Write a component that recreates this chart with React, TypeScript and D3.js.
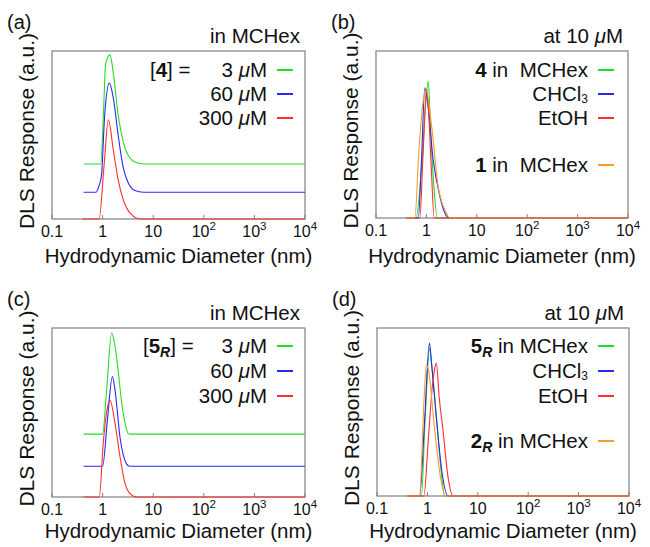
import React from "react";
import * as d3 from "d3";

// x axis: hydrodynamic diameter (nm), log scale
const tickValues = [0.1, 1, 10, 100, 1000, 10000];
const tickBases = ["0.1", "1", "10", "10", "10", "10"];
const tickExps = ["", "", "", "2", "3", "4"];

const concLabels = ["3", "60", "300"];

// series are [diameter (nm), response (a.u.)]
// (a) [4] in MCHex
const a3uM = [[0.43, 0], [0.92, 0], [1.04, 30], [1.15, 60], [1.4, 65], [1.63, 54], [2.01, 30], [2.53, 14], [3.18, 5.4], [4.72, 0.8], [7.4, 0], [10000, 0]];
const a60uM = [[0.42, 0], [0.73, 0], [0.86, 4.3], [0.95, 10], [1.1, 46], [1.36, 65], [1.63, 56], [2.04, 33.5], [2.57, 14.5], [3.22, 5.5], [4.37, 1], [6.4, 0], [10000, 0]];
const a300uM = [[0.4, 0], [0.85, 0], [1.07, 32], [1.3, 59], [1.63, 41], [2.04, 23], [2.57, 11.3], [3.48, 3.6], [5.5, 0], [10000, 0]];
const aOffsets = [32.7, 15.9, 0];

// (b) at 10 uM
const bMCHex = [[0.4, 0], [0.62, 0], [0.8, 30], [0.95, 65], [1.09, 82], [1.2, 55], [1.4, 20], [1.65, 0], [10000, 0]];
const bCHCl3 = [[0.4, 0], [0.69, 0], [0.8, 35], [0.93, 78], [1.05, 70], [1.36, 35], [1.85, 13], [2.32, 3], [2.85, 0], [10000, 0]];
const bEtOH = [[0.4, 0], [0.74, 0], [0.85, 35], [1.01, 77], [1.1, 65], [1.25, 30], [1.43, 0], [10000, 0]];
const b1MCHex = [[0.375, 0], [0.59, 0], [0.71, 40], [0.86, 70], [1.0, 76], [1.27, 55], [1.71, 19], [2.51, 3], [2.9, 0], [10000, 0]];

// (c) [5R] in MCHex
const c3uM = [[0.42, 0], [1.0, 0], [1.2, 26], [1.51, 60], [1.76, 52], [2.56, 12], [3.22, 0.4], [3.6, 0], [10000, 0]];
const c60uM = [[0.42, 0], [1.0, 0], [1.25, 28], [1.56, 53], [1.76, 45], [2.21, 17], [2.97, 1.4], [3.4, 0], [10000, 0]];
const c300uM = [[0.42, 0], [0.86, 0], [1.03, 32], [1.32, 56], [1.4, 57.4], [1.76, 43.6], [2.21, 23.8], [2.77, 8], [3.48, 2], [4.72, 0], [10000, 0]];
const cOffsets = [37.2, 18.2, 0];

// (d) at 10 uM
const dMCHex = [[0.4, 0], [0.76, 0], [0.9, 45], [1.11, 88], [1.2, 80], [1.51, 47], [1.9, 13], [2.2, 0], [10000, 0]];
const dCHCl3 = [[0.4, 0], [0.7, 0], [0.88, 45], [1.1, 91], [1.2, 80], [1.51, 46], [1.95, 14], [2.57, 0], [10000, 0]];
const dEtOH = [[0.4, 0], [0.85, 0], [1.05, 35], [1.25, 65], [1.45, 78], [1.51, 79], [1.7, 60], [2.04, 39], [2.56, 11.5], [3.22, 0], [10000, 0]];
const d2MCHex = [[0.38, 0], [0.7, 0], [0.85, 55], [0.955, 78], [1.05, 75], [1.4, 39], [1.8, 12], [2.3, 0], [10000, 0]];

const GREEN = "#22dd22";
const BLUE = "#2a2aee";
const RED = "#ff2e2e";
const ORANGE = "#ff992a";

const FONT = "'Liberation Sans', Arial, Helvetica, sans-serif";

type Box = { left: number; right: number; top: number; bottom: number };
type Row = { node: React.ReactNode; color: string; y: number };

const mu = <tspan fontStyle="italic">μ</tspan>;
const chcl3 = <>CHCl<tspan fontSize={12} dy={2}>3</tspan></>;

function Panel(props: {
  box: Box;
  series: number[][][];
  offsets: number[];
  colors: string[];
  letter: string;
  header: React.ReactNode;
  rows: Row[];
  textEnd: number;
  lead?: React.ReactNode;
  leadX?: number;
  titleDy: number;
}) {
  const { box, series, offsets, colors, letter, header, rows, textEnd, lead, leadX, titleDy } = props;
  const x = d3.scaleLog().domain([0.1, 10000]).range([box.left, box.right]);
  const y = d3.scaleLinear().domain([0, 100]).range([box.bottom, box.top]);
  const cx = (box.left + box.right) / 2;
  const cy = (box.top + box.bottom) / 2;

  return (
    <g fontFamily={FONT} fill="#111">
      <rect x={box.left} y={box.top} width={box.right - box.left} height={box.bottom - box.top}
        fill="none" stroke="#808080" strokeWidth={1.2} />
      {tickValues.map((t, i) => (
        <g key={i}>
          <line x1={x(t)} x2={x(t)} y1={box.bottom} y2={box.bottom - 4} stroke="#808080" strokeWidth={1} />
          <text x={x(t)} y={box.bottom + 18} fontSize={16} textAnchor="middle">
            {tickBases[i]}
            {tickExps[i] && <tspan fontSize={11.5} dy={-7}>{tickExps[i]}</tspan>}
          </text>
        </g>
      ))}
      {series.map((s, i) => {
        const off = offsets[i];
        const line = d3.line<number[]>()
          .x((d) => x(d[0]))
          .y((d) => y(d[1] + off))
          .curve(d3.curveMonotoneX);
        return <path key={i} d={line(s) || ""} fill="none" stroke={colors[i]} strokeWidth={1.1} />;
      })}
      <text x={box.left - 45} y={box.top - 22} fontSize={20}>({letter})</text>
      <text x={box.right - 5} y={box.top - 8} fontSize={20.5} textAnchor="end">{header}</text>
      {lead && <text x={leadX} y={rows[0].y} fontSize={20.5}>{lead}</text>}
      {rows.map((r, i) => (
        <g key={i}>
          <text x={textEnd} y={r.y} fontSize={20.5} textAnchor="end" style={{ whiteSpace: "pre" }}>{r.node}</text>
          <line x1={textEnd + 10} x2={textEnd + 26} y1={r.y - 7} y2={r.y - 7} stroke={r.color} strokeWidth={2} />
        </g>
      ))}
      <text x={cx} y={box.bottom + titleDy} fontSize={20.5} textAnchor="middle">Hydrodynamic Diameter (nm)</text>
      <text transform={`translate(${box.left - 18.5},${cy - 4}) rotate(-90)`} fontSize={21} textAnchor="middle">
        DLS Response (a.u.)
      </text>
    </g>
  );
}

export default function App() {
  const boxA = { left: 52, right: 305, top: 51, bottom: 219 };
  const boxB = { left: 376, right: 628, top: 51, bottom: 218 };
  const boxC = { left: 52, right: 305, top: 328, bottom: 497 };
  const boxD = { left: 377, right: 629, top: 328, bottom: 496 };
  const conc = [GREEN, BLUE, RED];
  const solv = [GREEN, BLUE, RED, ORANGE];

  return (
    <svg width={650} height={547} style={{ position: "absolute", left: 0, top: 0, background: "#fff" }}>
      <Panel box={boxA} series={[a3uM, a60uM, a300uM]} offsets={aOffsets} colors={conc} letter="a"
        header="in MCHex" textEnd={267} titleDy={44}
        lead={<>[<tspan fontWeight="bold">4</tspan>] =</>} leadX={150}
        rows={concLabels.map((c, i) => ({ node: <>{c} {mu}M</>, color: conc[i], y: 77 + i * 24 }))} />
      <Panel box={boxB} series={[bMCHex, bCHCl3, bEtOH, b1MCHex]} offsets={[0, 0, 0, 0]} colors={solv} letter="b"
        header={<>at 10 {mu}M</>} textEnd={588} titleDy={45}
        rows={[
          { node: <><tspan fontWeight="bold">4</tspan> in  MCHex</>, color: GREEN, y: 77 },
          { node: chcl3, color: BLUE, y: 101 },
          { node: <>EtOH</>, color: RED, y: 125 },
          { node: <><tspan fontWeight="bold">1</tspan> in  MCHex</>, color: ORANGE, y: 172 },
        ]} />
      <Panel box={boxC} series={[c3uM, c60uM, c300uM]} offsets={cOffsets} colors={conc} letter="c"
        header="in MCHex" textEnd={267} titleDy={41}
        lead={<>[<tspan fontWeight="bold">5</tspan><tspan fontWeight="bold" fontStyle="italic" fontSize={14} dy={4}>R</tspan><tspan dy={-4}>] =</tspan></>} leadX={143}
        rows={concLabels.map((c, i) => ({ node: <>{c} {mu}M</>, color: conc[i], y: 353 + i * 25 }))} />
      <Panel box={boxD} series={[dMCHex, dCHCl3, dEtOH, d2MCHex]} offsets={[0, 0, 0, 0]} colors={solv} letter="d"
        header={<>at 10 {mu}M</>} textEnd={588} titleDy={42}
        rows={[
          { node: <><tspan fontWeight="bold">5</tspan><tspan fontWeight="bold" fontStyle="italic" fontSize={14} dy={4}>R</tspan><tspan dy={-4}> in MCHex</tspan></>, color: GREEN, y: 353 },
          { node: chcl3, color: BLUE, y: 378 },
          { node: <>EtOH</>, color: RED, y: 403 },
          { node: <><tspan fontWeight="bold">2</tspan><tspan fontWeight="bold" fontStyle="italic" fontSize={14} dy={4}>R</tspan><tspan dy={-4}> in MCHex</tspan></>, color: ORANGE, y: 448 },
        ]} />
    </svg>
  );
}
